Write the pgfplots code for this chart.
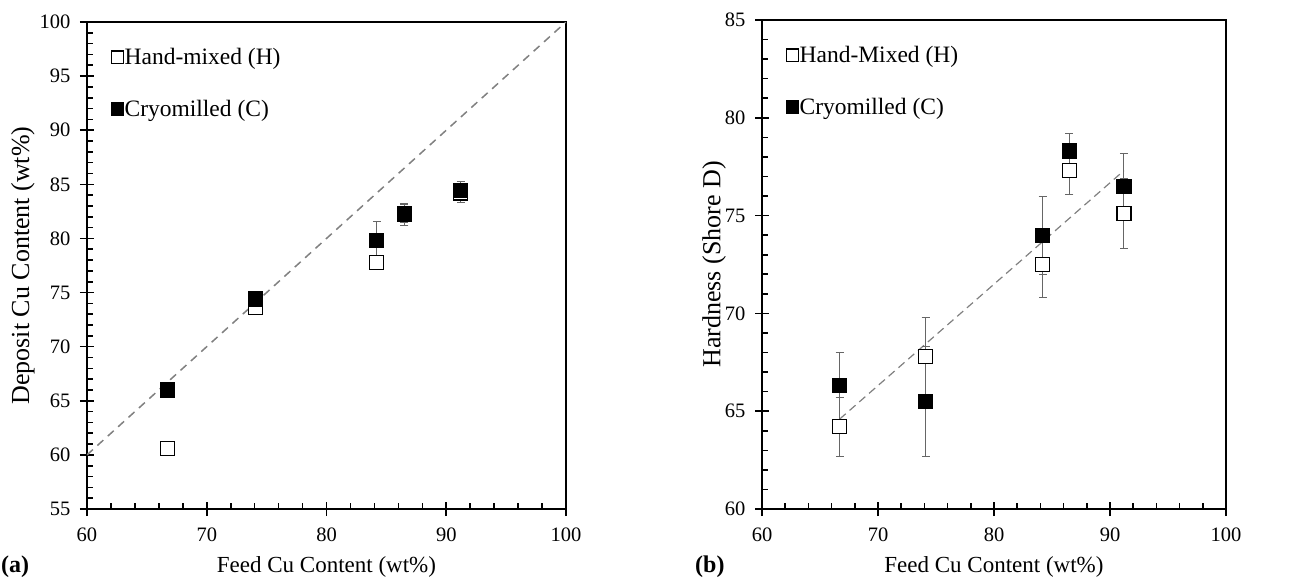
\documentclass[border=0pt]{standalone}
\usepackage{fontspec}
\setmainfont{Liberation Serif}
\usepackage{pgfplots}
\pgfplotsset{compat=1.18}

\pgfplotsset{
  panel/.style={
    scale only axis,
    xmin=60, xmax=100,
    xtick={60,70,...,100},
    minor x tick num=4,
    minor y tick num=4,
    tick pos=left,
    tick align=center,
    major tick length=14pt,
    minor tick length=6pt,
    minor x tick style={yshift=3pt},
    minor y tick style={xshift=3pt},
    axis line style={line width=1.8pt},
    every tick/.style={black, line width=1.6pt},
    tick label style={font=\fontsize{20.5}{24}\selectfont},
    xticklabel style={yshift=-8pt},
    yticklabel style={xshift=-6pt},
    /pgf/number format/assume math mode=true,
    xlabel={Feed Cu Content (wt\%)},
    legend style={at={(axis description cs:0,1)}, anchor=north west,
      xshift=24pt, yshift=-25pt, draw=none, fill=none, inner sep=0pt,
      row sep=32pt, font=\fontsize{23.5}{27}\selectfont,
      nodes={inner sep=1pt}},
    legend cell align=left,
    legend image code/.code={\draw[#1, mark size=6.2pt] plot coordinates {(0pt,0pt)};},
  },
  hand/.style={only marks, mark=square*, mark size=7pt,
    mark options={fill=white, draw=black, line width=1.2pt},
    error bars/.cd, y dir=both, y explicit,
    error bar style={black!60, line width=1pt},
    error mark options={rotate=90, mark size=4pt, black!60, line width=1pt}},
  cryo/.style={only marks, mark=square*, mark size=7pt,
    mark options={fill=black, draw=black, line width=1.2pt},
    error bars/.cd, y dir=both, y explicit,
    error bar style={black!60, line width=1pt},
    error mark options={rotate=90, mark size=4pt, black!60, line width=1pt}},
}

\begin{document}
\begin{tikzpicture}[x=1pt, y=1pt]
\path (0,0) rectangle (1315,582);

% (a) deposit composition
\begin{axis}[panel,
  at={(87pt,73pt)}, anchor=south west,
  width=479pt, height=487pt,
  ymin=55, ymax=100,
  ytick={55,60,...,100},
  ylabel={Deposit Cu Content (wt\%)},
  every axis x label/.style={at={(axis description cs:0.5,-0.119)}, anchor=center, font=\fontsize{23}{27}\selectfont},
  every axis y label/.style={at={(axis description cs:-0.134,0.5)}, rotate=90, anchor=center, font=\fontsize{26}{30}\selectfont},
]
\addplot[forget plot, gray, dashed, line width=1.5pt, dash pattern=on 8pt off 6pt] coordinates {(60,60) (100,100)};
\addplot[hand] coordinates {
  (66.7,60.6) +- (0,0.5)
  (74.1,73.6) +- (0,0.3)
  (84.2,77.8) +- (0,0.5)
  (86.5,82.2) +- (0,1.0)
  (91.2,84.2) +- (0,0.9)
};
\addlegendentry{Hand-mixed (H)}
\addplot[cryo] coordinates {
  (66.7,66.0) +- (0,0.3)
  (74.1,74.4) +- (0,0.3)
  (84.2,79.8) +- (0,1.8)
  (86.5,82.3) +- (0,0.8)
  (91.2,84.4) +- (0,0.9)
};
\addlegendentry{Cryomilled (C)}
\end{axis}

% (b) hardness
\begin{axis}[panel,
  at={(762pt,73pt)}, anchor=south west,
  width=464pt, height=489pt,
  ymin=60, ymax=85,
  ytick={60,65,...,85},
  ylabel={Hardness (Shore D)},
  every axis x label/.style={at={(axis description cs:0.5,-0.119)}, anchor=center, font=\fontsize{23}{27}\selectfont},
  every axis y label/.style={at={(axis description cs:-0.103,0.5)}, rotate=90, anchor=center, font=\fontsize{26}{30}\selectfont},
]
\addplot[forget plot, gray, dashed, line width=1.2pt, dash pattern=on 8pt off 5pt] coordinates {(66.7,64.6) (91.2,77.3)};
\addplot[hand] coordinates {
  (66.7,64.2) +- (0,1.5)
  (74.1,67.8) +- (0,2.0)
  (84.2,72.5) +- (0,1.7)
  (86.5,77.3) +- (0,1.2)
  (91.2,75.1) +- (0,1.8)
};
\addlegendentry{Hand-Mixed (H)}
\addplot[cryo] coordinates {
  (66.7,66.3) +- (0,1.7)
  (74.1,65.5) +- (0,2.8)
  (84.2,74.0) +- (0,2.0)
  (86.5,78.3) +- (0,0.9)
  (91.2,76.5) +- (0,1.7)
};
\addlegendentry{Cryomilled (C)}
\end{axis}

\node[anchor=south west, font=\fontsize{24}{28}\selectfont\bfseries, inner sep=0pt] at (1,4) {(a)};
\node[anchor=south west, font=\fontsize{24}{28}\selectfont\bfseries, inner sep=0pt] at (695,4) {(b)};
\end{tikzpicture}
\end{document}
